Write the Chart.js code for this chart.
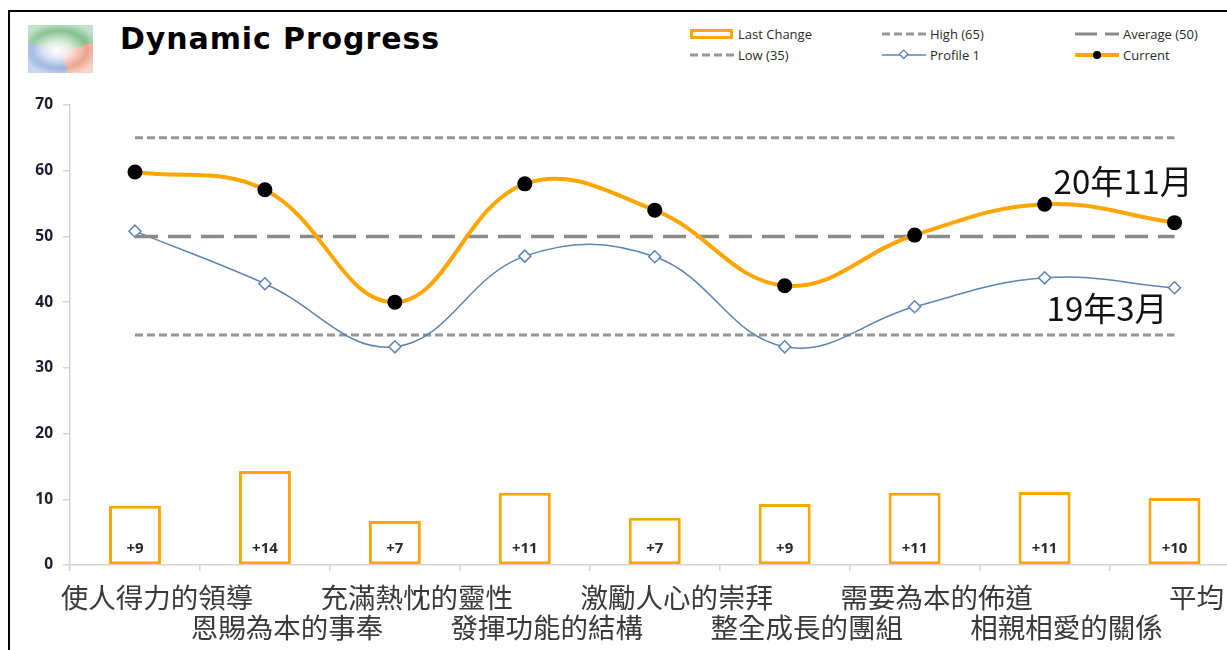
<!DOCTYPE html>
<html>
<head>
<meta charset="utf-8">
<script src="https://cdn.jsdelivr.net/npm/chart.js@4.4.1/dist/chart.umd.min.js"></script>
<style>
    html, body { margin: 0; padding: 0; width: 1227px; height: 650px; overflow: hidden; background: #fff; }
    #frame { position: absolute; left: 8px; top: 10px; width: 1300px; height: 700px; border: 2px solid #000; box-sizing: border-box; }
    #logo {
        position: absolute; left: 28px; top: 25px; width: 65px; height: 48px; opacity: 0.75;
        background:
            radial-gradient(ellipse 45% 40% at 45% 52%, rgba(255,255,255,1) 0, rgba(255,255,255,0.7) 45%, rgba(255,255,255,0) 100%),
            radial-gradient(ellipse 60% 55% at 50% 50%, rgba(255,255,255,0) 70%, rgba(255,255,255,0.5) 100%),
            conic-gradient(from -75deg at 50% 55%, #5fae6e 0 150deg, #e8866a 150deg 235deg, #7393d3 235deg 360deg);
    }
    #title {
        position: absolute; left: 120px; top: 21px; margin: 0;
        font-family: "Comic Sans MS", "DejaVu Sans", sans-serif; font-weight: bold; font-size: 30px; color: #000;
        letter-spacing: 0.9px;
    }
    #legend {
        position: absolute; left: 690px; top: 23px;
        display: grid; grid-template-columns: 192px 193px 150px; grid-auto-rows: 21px;
        font-family: "Open Sans", sans-serif; font-size: 13px; color: #2a2a2a;
    }
    #legend div { display: flex; align-items: center; white-space: nowrap; }
    #legend svg { margin-right: 4px; }
    #wrap { position: absolute; left: 0; top: 0; }
</style>
</head>
<body>
<div id="frame"></div>
<div id="logo"></div>
<p id="title">Dynamic Progress</p>
<div id="legend"></div>
<div id="wrap"><canvas id="progressChart" width="1247" height="650"></canvas></div>
<script>
var categories = [
    ['使人得力的領導'], ['', '恩賜為本的事奉'], ['充滿熱忱的靈性'], ['', '發揮功能的結構'],
    ['激勵人心的崇拜'], ['', '整全成長的團組'], ['需要為本的佈道'], ['', '相親相愛的關係'], ['平均']
];
var currentValues = [59.8, 57.1, 40.0, 58.0, 54.0, 42.5, 50.2, 54.9, 52.1];
var profileValues = [50.8, 42.8, 33.2, 47.0, 46.9, 33.2, 39.3, 43.7, 42.2];
var lastChange = [9.0, 14.3, 6.7, 11.0, 7.2, 9.3, 11.0, 11.1, 10.2];
var highLine = [65, 65, 65, 65, 65, 65, 65, 65, 65];
var averageLine = [50, 50, 50, 50, 50, 50, 50, 50, 50];
var lowLine = [35, 35, 35, 35, 35, 35, 35, 35, 35];
var yTicks = [0, 10, 20, 30, 40, 50, 60, 70];

var orange = '#FFA500';
var blue = '#5B84B5';
var grey = '#969696';

// bar values written inside each bar, near the axis
var barLabels = {
    id: 'barLabels',
    afterDatasetsDraw(chart) {
        var ctx = chart.ctx;
        var meta = chart.getDatasetMeta(0);
        var y0 = chart.scales.y.getPixelForValue(0);
        ctx.save();
        ctx.font = 'bold 15px "Open Sans", sans-serif';
        ctx.fillStyle = '#2a2a2a';
        ctx.textAlign = 'center';
        ctx.textBaseline = 'middle';
        meta.data.forEach(function(bar, i) {
            ctx.fillText('+' + Math.round(lastChange[i]), bar.x, y0 - 16);
        });
        ctx.restore();
    }
};

// the two date notes on the right
var dateNotes = {
    id: 'dateNotes',
    afterDraw(chart) {
        var ctx = chart.ctx;
        var x = chart.scales.x, y = chart.scales.y;
        ctx.save();
        ctx.font = '33px "Noto Sans CJK TC", sans-serif';
        ctx.fillStyle = '#111';
        ctx.textBaseline = 'middle';
        ctx.fillText('20年11月', x.getPixelForValue(7) + 9, y.getPixelForValue(58.3));
        ctx.fillText('19年3月', x.getPixelForValue(7) + 2, y.getPixelForValue(39.1));
        ctx.restore();
    }
};

var progressChart = new Chart(document.getElementById('progressChart'), {
    data: {
        labels: categories,
        datasets: [
            {
                type: 'bar',
                label: 'Last Change',
                data: lastChange,
                backgroundColor: '#fff',
                borderColor: orange,
                borderWidth: 3,
                borderSkipped: false,
                categoryPercentage: 0.8,
                barPercentage: 0.5,
                order: 6
            },
            {
                type: 'line',
                label: 'High (65)',
                data: highLine,
                borderColor: grey,
                borderWidth: 3,
                borderDash: [8, 4],
                pointRadius: 0,
                order: 5
            },
            {
                type: 'line',
                label: 'Low (35)',
                data: lowLine,
                borderColor: grey,
                borderWidth: 3,
                borderDash: [8, 4],
                pointRadius: 0,
                order: 5
            },
            {
                type: 'line',
                label: 'Profile 1',
                data: profileValues,
                borderColor: blue,
                borderWidth: 1.5,
                tension: 0.4,
                pointStyle: 'rectRot',
                pointRadius: 6,
                pointBackgroundColor: '#fff',
                pointBorderColor: blue,
                pointBorderWidth: 1.5,
                order: 4
            },
            {
                type: 'line',
                label: 'Average (50)',
                data: averageLine,
                borderColor: '#8a8a8a',
                borderWidth: 3.5,
                borderDash: [23, 10],
                pointRadius: 0,
                order: 3
            },
            {
                type: 'line',
                label: 'Current',
                data: currentValues,
                borderColor: orange,
                borderWidth: 4,
                tension: 0.4,
                pointRadius: 7.5,
                pointBackgroundColor: '#000',
                pointBorderColor: '#000',
                pointBorderWidth: 0,
                order: 1
            }
        ]
    },
    options: {
        responsive: false,
        animation: false,
        layout: { padding: { top: 105, right: 2, left: 0, bottom: 0 } },
        plugins: {
            legend: { display: false },
            tooltip: { enabled: false }
        },
        scales: {
            x: {
                grid: { display: true, drawOnChartArea: false, offset: true, tickLength: 6, color: '#d4d4d4', lineWidth: 1.5 },
                border: { color: '#d4d4d4', width: 1.5 },
                ticks: {
                    autoSkip: false,
                    maxRotation: 0,
                    minRotation: 0,
                    padding: 12,
                    labelOffset: 22,
                    color: '#3a3a3a',
                    font: { family: '"Noto Sans CJK TC", sans-serif', size: 27.5, lineHeight: 1.09 }
                },
                afterFit(scale) { scale.height = 85; }
            },
            y: {
                min: 0,
                max: 70,
                afterBuildTicks(scale) { scale.ticks = yTicks.map(function(v) { return { value: v }; }); },
                grid: { display: true, drawOnChartArea: false, tickLength: 7, color: '#d4d4d4', lineWidth: 1.5 },
                border: { color: '#d4d4d4', width: 1.5 },
                ticks: {
                    padding: 10,
                    color: '#1c1c30',
                    font: { family: '"Open Sans", sans-serif', size: 15.5, weight: 'bold' }
                },
                afterFit(scale) { scale.width = 70; }
            }
        }
    },
    plugins: [barLabels, dateNotes]
});

// legend laid out as in the original: three columns, two rows
var legendSymbols = {
    'Last Change': '<rect x="1.5" y="2.5" width="40" height="7" fill="#fff" stroke="' + orange + '" stroke-width="3"/>',
    'High (65)': '<line x1="0" y1="6" x2="44" y2="6" stroke="' + grey + '" stroke-width="3" stroke-dasharray="8 4"/>',
    'Average (50)': '<line x1="0" y1="6" x2="44" y2="6" stroke="#8a8a8a" stroke-width="3" stroke-dasharray="22 8"/>',
    'Low (35)': '<line x1="0" y1="6" x2="44" y2="6" stroke="' + grey + '" stroke-width="3" stroke-dasharray="8 4"/>',
    'Profile 1': '<line x1="0" y1="6" x2="44" y2="6" stroke="' + blue + '" stroke-width="1.5"/><rect x="18" y="2" width="6" height="6" transform="rotate(45 21 6)" fill="#fff" stroke="' + blue + '" stroke-width="1.3"/>',
    'Current': '<line x1="0" y1="6" x2="44" y2="6" stroke="' + orange + '" stroke-width="4"/><circle cx="22" cy="6" r="4" fill="#000"/>'
};
var legendOrder = ['Last Change', 'High (65)', 'Average (50)', 'Low (35)', 'Profile 1', 'Current'];
var legendBox = document.getElementById('legend');
legendOrder.forEach(function(name) {
    var item = document.createElement('div');
    item.innerHTML = '<svg width="44" height="12">' + legendSymbols[name] + '</svg><span>' + name + '</span>';
    legendBox.appendChild(item);
});
</script>
</body>
</html>
